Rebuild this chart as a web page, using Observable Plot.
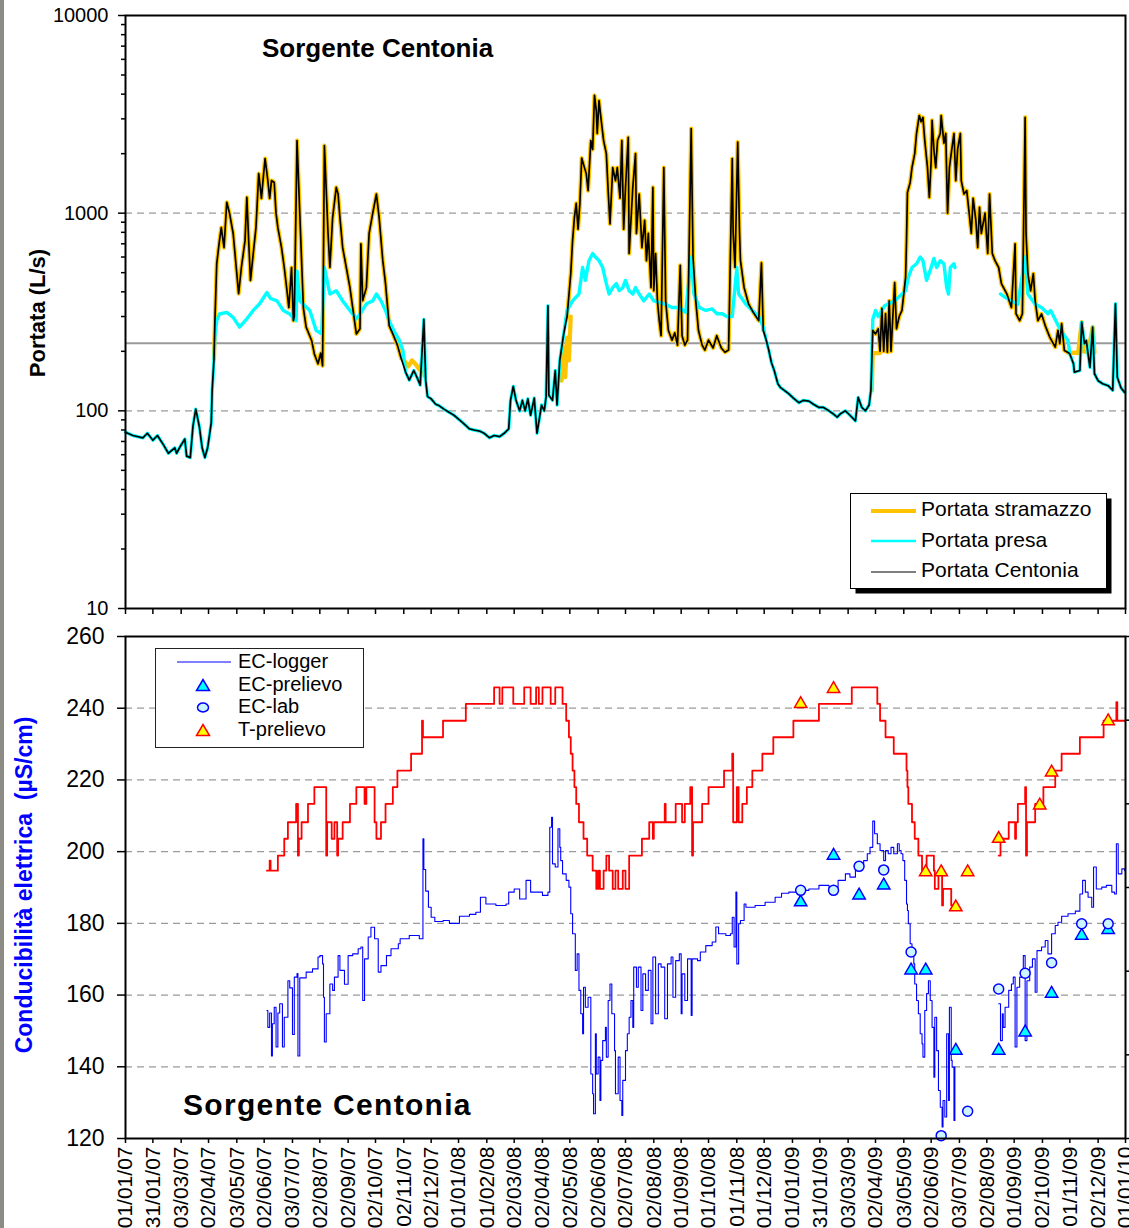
<!DOCTYPE html>
<html>
<head>
<meta charset="utf-8">
<script src="https://cdn.jsdelivr.net/npm/d3@7"></script>
<script src="https://cdn.jsdelivr.net/npm/@observablehq/plot@0.6"></script>
<style>
  html, body { margin: 0; padding: 0; background: #fff; }
  #page { position: relative; width: 1129px; height: 1228px; overflow: hidden;
          font-family: "Liberation Sans", Arial, sans-serif; }
  #top, #bottom { position: absolute; left: 0; }
  #top { top: 0; }
  #bottom { top: 620px; }
  #strip { position: absolute; left: 0; top: 0; width: 4px; height: 1228px; background: #8c8c84; }
  #overlay { position: absolute; left: 0; top: 0; pointer-events: none; }
  #overlay text { font-family: "Liberation Sans", Arial, sans-serif; fill: #000; }
</style>
</head>
<body>
<div id="page">
  <div id="top"></div>
  <div id="bottom"></div>
  <div id="strip"></div>
  <svg id="overlay" width="1129" height="1228">
    <!-- discharge panel: title, axis title, legend -->
    <text x="262" y="57" font-size="26" font-weight="bold">Sorgente Centonia</text>
    <text transform="translate(45,313) rotate(-90)" text-anchor="middle" font-size="22" font-weight="bold">Portata (L/s)</text>
    <rect x="855.5" y="498.5" width="256" height="95" fill="#000"/>
    <rect x="850.5" y="493.5" width="256" height="95" fill="#fff" stroke="#000" stroke-width="1"/>
    <line x1="871" x2="916" y1="511" y2="511" stroke="#ffc400" stroke-width="4"/>
    <line x1="871" x2="916" y1="541" y2="541" stroke="#00ffff" stroke-width="2.5"/>
    <line x1="871" x2="916" y1="572" y2="572" stroke="#000" stroke-width="1.2"/>
    <text x="921" y="516" font-size="21">Portata stramazzo</text>
    <text x="921" y="547" font-size="21">Portata presa</text>
    <text x="921" y="577" font-size="21">Portata Centonia</text>

    <!-- conductivity panel: title, axis title, legend -->
    <text x="183" y="1115" font-size="30" font-weight="bold" letter-spacing="1.3">Sorgente Centonia</text>
    <text transform="translate(32,885) rotate(-90)" text-anchor="middle" font-size="23" font-weight="bold" style="fill:#0000ff" xml:space="preserve">Conducibilità elettrica  (µS/cm)</text>
    <rect x="155.5" y="648.5" width="208" height="99" fill="#fff" stroke="#222" stroke-width="1"/>
    <line x1="177" x2="231" y1="662" y2="662" stroke="#0000ff" stroke-width="1.2"/>
    <polygon points="196.5,690.5 209.5,690.5 203,679.5" fill="#00ffff" stroke="#0000ff" stroke-width="1.5"/>
    <ellipse cx="203" cy="707.5" rx="5.5" ry="4.5" fill="#ccf5ff" stroke="#0000ff" stroke-width="1.5"/>
    <polygon points="196.5,735.5 209.5,735.5 203,724.5" fill="#ffff00" stroke="#ff0000" stroke-width="1.5"/>
    <text x="238" y="668" font-size="20">EC-logger</text>
    <text x="238" y="691" font-size="20">EC-prelievo</text>
    <text x="238" y="713" font-size="20">EC-lab</text>
    <text x="238" y="736" font-size="20">T-prelievo</text>
  </svg>
</div>
<script>
// ---------- shared time axis ----------
const tickLabels = [
  "01/01/07","31/01/07","03/03/07","02/04/07","03/05/07","02/06/07","03/07/07","02/08/07",
  "02/09/07","02/10/07","02/11/07","02/12/07","01/01/08","01/02/08","02/03/08","02/04/08",
  "02/05/08","02/06/08","02/07/08","02/08/08","01/09/08","01/10/08","01/11/08","01/12/08",
  "01/01/09","31/01/09","03/03/09","02/04/09","03/05/09","02/06/09","03/07/09","02/08/09",
  "01/09/09","02/10/09","01/11/09","02/12/09","01/01/10"
];

// ---------- discharge (L/s) ----------
// Low-flow periods: intake and Centonia readings coincide.
const low2007a = [
  ["2007-01-01",78],["2007-01-09",75],["2007-01-20",73],["2007-01-25",77],["2007-01-31",71],
  ["2007-02-05",75],["2007-02-11",68],["2007-02-17",61],["2007-02-24",65],["2007-02-26",61],
  ["2007-03-02",66],["2007-03-07",72],["2007-03-09",59],["2007-03-13",58],["2007-03-16",84],
  ["2007-03-19",102],["2007-03-23",83],["2007-03-26",65],["2007-03-29",58],["2007-04-01",65],
  ["2007-04-05",87],["2007-04-06",127],["2007-04-08",183]
];
const low2007b = [
  ["2007-11-04",157],["2007-11-08",143],["2007-11-13",160],["2007-11-17",146],["2007-11-20",135],
  ["2007-11-24",290],["2007-11-26",143],["2007-11-28",118],["2007-12-02",115],["2007-12-07",108],
  ["2007-12-11",106],["2007-12-16",102],["2007-12-22",98],["2007-12-27",95],["2008-01-02",90],
  ["2008-01-07",86],["2008-01-13",81],["2008-01-18",80],["2008-01-24",79],["2008-01-29",77],
  ["2008-02-04",73],["2008-02-09",75],["2008-02-15",74],["2008-02-20",77],["2008-02-25",81],
  ["2008-02-27",113],["2008-03-01",133],["2008-03-04",113],["2008-03-08",100],["2008-03-11",113],
  ["2008-03-14",100],["2008-03-17",115],["2008-03-20",95],["2008-03-24",116],["2008-03-27",77],
  ["2008-04-01",107],["2008-04-04",100],["2008-04-06",118],["2008-04-08",340],["2008-04-09",120],
  ["2008-04-13",113],["2008-04-16",160],["2008-04-18",107],["2008-04-21",180],["2008-04-25",240]
];
const low2008 = [
  ["2008-12-03",230],["2008-12-06",203],["2008-12-09",175],["2008-12-12",160],["2008-12-16",137],
  ["2008-12-19",131],["2008-12-23",127],["2008-12-28",122],["2009-01-02",116],["2009-01-08",110],
  ["2009-01-13",113],["2009-01-19",112],["2009-01-24",108],["2009-01-30",104],["2009-02-04",104],
  ["2009-02-10",100],["2009-02-14",97],["2009-02-19",93],["2009-02-23",97],["2009-02-28",100],
  ["2009-03-05",95],["2009-03-11",89],["2009-03-14",117],["2009-03-18",104],["2009-03-22",100],
  ["2009-03-26",107],["2009-03-28",127]
];
const low2009 = [
  ["2009-11-01",194],["2009-11-05",173],["2009-11-06",157],["2009-11-12",160],["2009-11-14",281],
  ["2009-11-17",219],["2009-11-19",227],["2009-11-23",166],["2009-11-26",265],["2009-11-28",154],
  ["2009-12-02",142],["2009-12-07",137],["2009-12-13",134],["2009-12-18",127],["2009-12-21",348],
  ["2009-12-23",148],["2009-12-27",131],["2009-12-31",124]
];

// High-flow periods: weir (stramazzo) readings, which Centonia follows.
const weir2007 = [
  ["2007-04-08",183],["2007-04-09",286],["2007-04-11",556],["2007-04-14",726],["2007-04-16",845],
  ["2007-04-19",670],["2007-04-22",1135],["2007-04-25",1000],["2007-04-29",789],["2007-05-03",494],
  ["2007-05-05",392],["2007-05-08",531],["2007-05-12",726],["2007-05-14",1202],["2007-05-16",726],
  ["2007-05-18",457],["2007-05-21",624],["2007-05-24",845],["2007-05-27",1585],["2007-05-30",1189],
  ["2007-06-01",1514],["2007-06-03",1890],["2007-06-06",1462],["2007-06-08",1189],["2007-06-10",1462],
  ["2007-06-13",1430],["2007-06-15",1000],["2007-06-17",845],["2007-06-21",670],["2007-06-24",531],
  ["2007-06-27",405],["2007-06-29",333],["2007-07-02",531],["2007-07-04",286],["2007-07-05",300],
  ["2007-07-08",2330],["2007-07-11",1000],["2007-07-13",575],["2007-07-15",330],["2007-07-18",265],
  ["2007-07-24",227],["2007-07-27",194],["2007-07-31",173],["2007-08-03",196],["2007-08-05",169],
  ["2007-08-07",2200],["2007-08-11",789],["2007-08-13",531],["2007-08-16",950],["2007-08-20",1350],
  ["2007-08-22",1250],["2007-08-24",950],["2007-08-27",670],["2007-08-31",531],["2007-09-04",420],
  ["2007-09-07",333],["2007-09-11",245],["2007-09-15",260],["2007-09-16",700],["2007-09-18",361],
  ["2007-09-22",420],["2007-09-25",789],["2007-09-29",1000],["2007-10-03",1250],["2007-10-06",950],
  ["2007-10-10",575],["2007-10-13",440],["2007-10-17",270],["2007-10-21",245],["2007-10-26",215],
  ["2007-10-30",185]
];
const weir2008 = [
  ["2008-04-28",286],["2008-04-29",300],["2008-05-03",494],["2008-05-05",726],["2008-05-07",950],
  ["2008-05-09",1120],["2008-05-11",830],["2008-05-13",1120],["2008-05-15",1900],["2008-05-18",1700],
  ["2008-05-20",1585],["2008-05-22",1300],["2008-05-25",2330],["2008-05-27",2100],["2008-05-29",3940],
  ["2008-05-31",3300],["2008-06-01",2530],["2008-06-03",3715],["2008-06-05",3050],["2008-06-08",2330],
  ["2008-06-11",2000],["2008-06-13",1300],["2008-06-15",883],["2008-06-18",1700],["2008-06-21",1460],
  ["2008-06-23",1700],["2008-06-26",1190],["2008-06-28",2330],["2008-06-30",830],["2008-07-02",1350],
  ["2008-07-05",2420],["2008-07-06",625],["2008-07-10",1350],["2008-07-13",2000],["2008-07-14",790],
  ["2008-07-17",1250],["2008-07-20",670],["2008-07-23",920],["2008-07-25",575],["2008-07-27",790],
  ["2008-07-30",420],["2008-08-01",1350],["2008-08-02",405],["2008-08-04",625],["2008-08-06",360],
  ["2008-08-08",286],["2008-08-10",240],["2008-08-13",1700],["2008-08-15",360],["2008-08-18",255],
  ["2008-08-22",228],["2008-08-25",248],["2008-08-28",215],["2008-08-31",545],["2008-09-02",240],
  ["2008-09-05",215],["2008-09-08",228],["2008-09-12",2680],["2008-09-14",600],["2008-09-17",360],
  ["2008-09-20",255],["2008-09-24",215],["2008-09-27",203],["2008-10-01",228],["2008-10-06",208],
  ["2008-10-10",240],["2008-10-15",208],["2008-10-19",198],["2008-10-23",203],["2008-10-27",1890],
  ["2008-10-28",790],["2008-10-30",531],["2008-11-02",2290],["2008-11-04",790],["2008-11-05",575],
  ["2008-11-09",420],["2008-11-14",346],["2008-11-19",315],["2008-11-25",286],["2008-11-28",560],
  ["2008-11-30",255]
];
const weir2009 = [
  ["2009-03-30",255],["2009-04-02",245],["2009-04-05",260],["2009-04-07",200],["2009-04-09",330],
  ["2009-04-11",200],["2009-04-13",310],["2009-04-15",198],["2009-04-17",360],["2009-04-19",200],
  ["2009-04-21",300],["2009-04-23",445],["2009-04-25",260],["2009-04-28",300],["2009-05-01",322],
  ["2009-05-05",473],["2009-05-06",726],["2009-05-07",1270],["2009-05-10",1430],["2009-05-12",1700],
  ["2009-05-15",2000],["2009-05-17",2530],["2009-05-20",3120],["2009-05-22",2900],["2009-05-24",3050],
  ["2009-05-26",2330],["2009-05-29",1700],["2009-05-31",1200],["2009-06-02",1840],["2009-06-03",2950],
  ["2009-06-05",2100],["2009-06-07",1700],["2009-06-09",2330],["2009-06-12",2530],["2009-06-13",3120],
  ["2009-06-16",2260],["2009-06-18",2530],["2009-06-20",1000],["2009-06-22",1700],["2009-06-24",2000],
  ["2009-06-27",2530],["2009-06-29",1460],["2009-07-01",2100],["2009-07-04",2530],["2009-07-05",1460],
  ["2009-07-08",1250],["2009-07-11",1300],["2009-07-13",1070],["2009-07-16",790],["2009-07-18",1190],
  ["2009-07-21",920],["2009-07-23",670],["2009-07-25",1070],["2009-07-27",790],["2009-07-31",1000],
  ["2009-08-03",625],["2009-08-05",1250],["2009-08-08",625],["2009-08-11",575],["2009-08-15",531],
  ["2009-08-18",440],["2009-08-24",390],["2009-08-29",333],["2009-09-02",700],["2009-09-03",310],
  ["2009-09-07",286],["2009-09-10",310],["2009-09-13",3050],["2009-09-14",790],["2009-09-16",494],
  ["2009-09-19",405],["2009-09-22",494],["2009-09-24",360],["2009-09-27",286],["2009-10-01",309],
  ["2009-10-05",270],["2009-10-10",236],["2009-10-16",210],["2009-10-19",255],["2009-10-21",219],
  ["2009-10-23",276],["2009-10-26",202],["2009-10-31",196]
];
// Weir readings where they part from the Centonia trace.
const weirOnly2007 = [
  ["2007-10-30",185],["2007-11-03",178],["2007-11-07",168],["2007-11-11",180],["2007-11-15",172],
  ["2007-11-19",162],["2007-11-22",176],["2007-11-25",150]
];
const weirOnly2008 = [
  ["2008-04-23",142],["2008-04-25",210],["2008-04-27",148],["2008-04-29",235],["2008-05-01",180],
  ["2008-05-03",300]
];
const weirOnly2009a = [["2009-03-29",127],["2009-03-30",196],["2009-04-07",196]];
const weirOnly2009b = [
  ["2009-10-31",196],["2009-11-05",197],["2009-11-10",196],["2009-11-14",281],["2009-11-16",200],
  ["2009-11-21",198],["2009-11-26",265],["2009-11-28",197]
];

// Intake (presa) readings during high flow; null marks the missing record.
const presa2007 = [
  ["2007-04-09",240],["2007-04-11",286],["2007-04-14",309],["2007-04-22",315],["2007-04-29",297],
  ["2007-05-06",265],["2007-05-14",292],["2007-05-21",322],["2007-05-28",348],["2007-06-05",397],
  ["2007-06-09",370],["2007-06-16",360],["2007-06-23",322],["2007-06-30",309],["2007-07-07",286],
  ["2007-07-08",510],["2007-07-11",360],["2007-07-22",322],["2007-07-29",255],["2007-08-04",245],
  ["2007-08-07",531],["2007-08-13",390],["2007-08-20",405],["2007-08-27",360],["2007-09-04",322],
  ["2007-09-11",292],["2007-09-15",309],["2007-09-22",348],["2007-09-29",360],["2007-10-03",390],
  ["2007-10-08",360],["2007-10-13",322],["2007-10-17",285],["2007-10-22",255],["2007-10-28",228],
  ["2007-11-01",203]
];
const presa2008 = [
  ["2008-04-29",322],["2008-05-05",360],["2008-05-12",390],["2008-05-16",531],["2008-05-19",457],
  ["2008-05-23",575],["2008-05-27",625],["2008-05-30",600],["2008-06-03",575],["2008-06-07",531],
  ["2008-06-11",440],["2008-06-14",390],["2008-06-18",420],["2008-06-22",440],["2008-06-25",405],
  ["2008-06-29",420],["2008-07-02",457],["2008-07-06",405],["2008-07-10",390],["2008-07-13",420],
  ["2008-07-17",390],["2008-07-22",360],["2008-07-28",390],["2008-08-02",360],["2008-08-08",354],
  ["2008-08-15",346],["2008-08-22",333],["2008-08-30",333],["2008-09-06",315],["2008-09-12",600],
  ["2008-09-15",390],["2008-09-21",333],["2008-09-28",322],["2008-10-05",328],["2008-10-10",310],
  ["2008-10-16",310],["2008-10-21",300],["2008-10-27",300],["2008-11-01",531],["2008-11-03",390],
  ["2008-11-11",346],["2008-11-18",322],["2008-11-25",300],["2008-11-30",265]
];
const presa2009 = [
  ["2009-03-30",290],["2009-04-02",322],["2009-04-05",300],["2009-04-12",340],["2009-04-23",360],
  ["2009-05-05",405],["2009-05-08",473],["2009-05-12",531],["2009-05-17",555],["2009-05-21",600],
  ["2009-05-24",575],["2009-05-28",457],["2009-06-01",515],["2009-06-05",590],["2009-06-08",531],
  ["2009-06-12",575],["2009-06-16",555],["2009-06-19",420],["2009-06-21",390],["2009-06-23",531],
  ["2009-06-27",555],["2009-06-28",531],["2009-07-20",null],["2009-08-17",390],["2009-08-22",375],
  ["2009-08-29",360],["2009-09-05",346],["2009-09-13",600],["2009-09-16",390],["2009-09-24",346],
  ["2009-10-01",333],["2009-10-08",310],["2009-10-11",322],["2009-10-22",255],["2009-10-30",227]
];
// Horizontal reference level (L/s)
const thresholdQ = 220;

// ---------- electrical conductivity (µS/cm) ----------
const ecLogger = [
  ["2007-06-05",155.7],["2007-06-06",151],["2007-06-08",155],["2007-06-10",143],["2007-06-11",152],
  ["2007-06-13",156.6],["2007-06-15",145.5],["2007-06-17",155],["2007-06-19",157.6],["2007-06-22",145.5],
  ["2007-06-24",153.8],["2007-06-28",164],["2007-06-30",162],["2007-07-03",149],["2007-07-05",165],
  ["2007-07-08",166],["2007-07-09",143],["2007-07-11",164.8],["2007-07-18",166.4],["2007-07-25",167.3],
  ["2007-07-31",170.6],["2007-08-02",171],["2007-08-05",168.7],["2007-08-06",159.4],["2007-08-07",146.9],
  ["2007-08-09",154.8],["2007-08-13",163.1],["2007-08-16",161.3],["2007-08-18",165],["2007-08-22",171],
  ["2007-08-24",166.9],["2007-08-29",163],["2007-09-02",171],["2007-09-07",171.5],["2007-09-13",172.9],
  ["2007-09-16",173.4],["2007-09-18",158.5],["2007-09-20",170.1],["2007-09-24",176.2],["2007-09-27",178.9],
  ["2007-10-01",175.7],["2007-10-05",166.4],["2007-10-08",168.2],["2007-10-14",171],["2007-10-19",172.9],
  ["2007-10-27",174.3],["2007-10-29",175.7],["2007-11-08",176.6],["2007-11-19",175.7],["2007-11-23",203.6],
  ["2007-11-24",195],["2007-11-26",189],["2007-11-29",184.5],["2007-12-02",181.7],["2007-12-06",180.5],
  ["2007-12-15",180.8],["2007-12-22",180],["2008-01-02",182],["2008-01-13",182.5],["2008-01-20",183.1],
  ["2008-01-25",187.3],["2008-01-31",185.4],["2008-02-11",185],["2008-02-22",185.4],["2008-02-25",188.7],
  ["2008-03-02",189.6],["2008-03-08",186.8],["2008-03-15",192],["2008-03-20",188.7],["2008-03-26",188.7],
  ["2008-04-02",187.8],["2008-04-08",188.7],["2008-04-10",206.8],["2008-04-12",209.6],["2008-04-13",196.6],
  ["2008-04-16",195.7],["2008-04-19",206.4],["2008-04-21",201.2],["2008-04-22",197.5],["2008-04-24",193.8],
  ["2008-04-28",192],["2008-05-01",190.1],["2008-05-03",182.7],["2008-05-05",177.1],["2008-05-08",166.9],
  ["2008-05-10",171.5],["2008-05-12",161.3],["2008-05-14",154.8],["2008-05-16",149.2],["2008-05-17",162.2],
  ["2008-05-19",156.6],["2008-05-22",159.4],["2008-05-25",138],["2008-05-27",132.5],["2008-05-28",126.9],
  ["2008-05-30",149.2],["2008-05-31",138],["2008-06-02",142.7],["2008-06-04",130.6],["2008-06-05",141.8],
  ["2008-06-07",147.3],["2008-06-10",151],["2008-06-11",142.7],["2008-06-13",158.5],["2008-06-15",163.1],
  ["2008-06-17",154.8],["2008-06-20",144.5],["2008-06-21",132.5],["2008-06-24",142.7],["2008-06-26",130.6],
  ["2008-06-28",126.4],["2008-06-29",136.2],["2008-07-02",144.5],["2008-07-04",149.2],["2008-07-06",153.8],
  ["2008-07-08",158.5],["2008-07-10",151],["2008-07-11",167.8],["2008-07-14",162.2],["2008-07-16",167.8],
  ["2008-07-19",155.7],["2008-07-21",165.9],["2008-07-24",161.3],["2008-07-27",166.9],["2008-07-30",152],
  ["2008-08-01",170.6],["2008-08-04",154.8],["2008-08-07",168.7],["2008-08-10",167.8],["2008-08-14",153.4],
  ["2008-08-17",168.7],["2008-08-21",170.6],["2008-08-23",159.4],["2008-08-26",169.6],["2008-08-30",171.5],
  ["2008-09-01",154.8],["2008-09-02",165.9],["2008-09-05",158.5],["2008-09-08",170.1],["2008-09-12",154.3],
  ["2008-09-13",170.1],["2008-09-19",169.6],["2008-09-22",172],["2008-09-28",173.8],["2008-10-05",174.8],
  ["2008-10-09",179],["2008-10-12",177.1],["2008-10-20",176.6],["2008-10-25",177.1],["2008-10-27",181.7],
  ["2008-10-29",173.4],["2008-10-31",188.7],["2008-11-01",168.7],["2008-11-03",179.9],["2008-11-05",180.8],
  ["2008-11-09",185.4],["2008-11-11",184.5],["2008-11-21",185],["2008-12-02",185.9],["2008-12-13",187.3],
  ["2008-12-20",188.4],["2008-12-28",188.7],["2009-01-08",189.2],["2009-01-19",189.6],["2009-01-30",190.6],
  ["2009-02-10",190.1],["2009-02-20",192],["2009-02-28",193.8],["2009-03-05",192.9],["2009-03-11",195.2],
  ["2009-03-16",196.6],["2009-03-20",197.5],["2009-03-24",199.4],["2009-03-27",201.2],["2009-03-30",208.5],
  ["2009-04-01",205],["2009-04-04",202.2],["2009-04-07",200.3],["2009-04-11",197.5],["2009-04-13",200.3],
  ["2009-04-16",199.4],["2009-04-19",201.2],["2009-04-22",199.4],["2009-04-26",202.2],["2009-04-28",200.3],
  ["2009-04-30",199.4],["2009-05-02",197.5],["2009-05-04",192],["2009-05-06",185.4],["2009-05-07",183.6],
  ["2009-05-08",179.9],["2009-05-10",174.3],["2009-05-12",171.5],["2009-05-14",168.7],["2009-05-15",163.1],
  ["2009-05-17",158.5],["2009-05-19",154.8],["2009-05-21",149.2],["2009-05-23",146.4],["2009-05-24",142.7],
  ["2009-05-26",155.7],["2009-05-28",160.4],["2009-05-30",164],["2009-06-01",158.5],["2009-06-03",151],
  ["2009-06-05",137.1],["2009-06-06",153.8],["2009-06-08",144.5],["2009-06-10",133.4],["2009-06-12",128.7],
  ["2009-06-14",123.2],["2009-06-15",130.6],["2009-06-17",126],["2009-06-19",149.2],["2009-06-21",130.6],
  ["2009-06-22",156.6],["2009-06-24",141.8],["2009-06-25",139.9],["2009-06-27",125],["2009-06-28",140],
  ["2009-07-15",null],
  ["2009-08-15",157.6],["2009-08-17",147.3],["2009-08-19",154.8],["2009-08-20",151],["2009-08-22",156.6],
  ["2009-08-26",161.3],["2009-08-29",163.1],["2009-08-31",165],["2009-09-02",145.5],["2009-09-04",162.2],
  ["2009-09-07",165],["2009-09-11",171],["2009-09-13",147.3],["2009-09-15",164],["2009-09-18",167.8],
  ["2009-09-21",170.1],["2009-09-24",160.8],["2009-09-26",172.4],["2009-10-01",173.4],["2009-10-05",175.2],
  ["2009-10-08",171.5],["2009-10-12",177.1],["2009-10-16",179.4],["2009-10-19",180.3],["2009-10-23",182],
  ["2009-10-30",182.7],["2009-11-07",183.4],["2009-11-12",188.2],["2009-11-15",192],["2009-11-18",188.7],
  ["2009-11-21",187.3],["2009-11-25",184.5],["2009-11-27",195.7],["2009-11-30",189.6],["2009-12-06",190.1],
  ["2009-12-11",190.6],["2009-12-17",188.7],["2009-12-20",188.2],["2009-12-22",202.2],["2009-12-24",193.8],
  ["2009-12-28",195.2],["2009-12-31",194.7]
];
// Temperature logger trace, read against the left scale of the lower panel.
const tLogger = [
  ["2007-06-05",194.7],["2007-06-08",197.5],["2007-06-09",194.7],["2007-06-17",198.9],["2007-06-24",203.6],
  ["2007-06-28",208.2],["2007-07-07",213.3],["2007-07-09",198.9],["2007-07-10",203.6],["2007-07-13",208.2],
  ["2007-07-20",213.3],["2007-07-27",218],["2007-08-09",198.9],["2007-08-10",208.2],["2007-08-15",203.6],
  ["2007-08-18",208.2],["2007-08-21",198.9],["2007-08-22",203.6],["2007-08-27",208.2],["2007-09-04",213.3],
  ["2007-09-11",218],["2007-09-20",213.3],["2007-09-22",218],["2007-10-01",208.2],["2007-10-03",203.6],
  ["2007-10-08",208.2],["2007-10-13",213.3],["2007-10-21",218],["2007-10-26",222.6],["2007-11-10",227.3],
  ["2007-11-22",236.5],["2007-11-23",231.9],["2007-12-15",236.5],["2008-01-09",241.2],["2008-02-09",245.8],
  ["2008-02-15",241.2],["2008-02-18",245.8],["2008-03-01",241.2],["2008-03-13",245.8],["2008-03-20",241.2],
  ["2008-03-26",245.8],["2008-03-29",241.2],["2008-04-02",245.8],["2008-04-11",241.2],["2008-04-16",245.8],
  ["2008-04-24",241.2],["2008-04-28",236.5],["2008-05-01",231.9],["2008-05-03",227.3],["2008-05-05",222.6],
  ["2008-05-07",218],["2008-05-09",213.3],["2008-05-12",208.2],["2008-05-17",203.6],["2008-05-21",198.9],
  ["2008-05-27",194.7],["2008-05-31",189.6],["2008-06-02",194.7],["2008-06-04",189.6],["2008-06-08",194.7],
  ["2008-06-11",198.9],["2008-06-14",194.7],["2008-06-18",189.6],["2008-06-21",194.7],["2008-06-24",189.6],
  ["2008-06-29",194.7],["2008-07-02",189.6],["2008-07-06",198.9],["2008-07-20",203.6],["2008-07-28",208.2],
  ["2008-08-01",203.6],["2008-08-02",208.2],["2008-08-14",213.3],["2008-08-15",208.2],["2008-08-26",213.3],
  ["2008-09-02",208.2],["2008-09-05",213.3],["2008-09-11",218],["2008-09-13",198.9],["2008-09-14",208.2],
  ["2008-09-24",213.3],["2008-10-01",218],["2008-10-18",222.6],["2008-10-27",227.3],["2008-10-28",208.2],
  ["2008-11-01",218],["2008-11-03",208.2],["2008-11-07",213.3],["2008-11-12",218],["2008-11-18",222.6],
  ["2008-11-29",227.3],["2008-12-11",231.9],["2009-01-02",236.5],["2009-01-30",241.2],["2009-03-07",245.8],
  ["2009-04-04",241.2],["2009-04-07",236.5],["2009-04-13",231.9],["2009-04-22",227.3],["2009-05-06",222.6],
  ["2009-05-07",218],["2009-05-08",213.3],["2009-05-12",208.2],["2009-05-15",203.6],["2009-05-19",198.9],
  ["2009-05-23",194.7],["2009-05-28",198.9],["2009-06-05",194.7],["2009-06-06",189.6],["2009-06-10",194.7],
  ["2009-06-14",185],["2009-06-15",189.6],["2009-06-24",185],["2009-06-28",185],["2009-07-15",null],
  ["2009-08-15",198.9],["2009-08-17",203.6],["2009-08-26",208.2],["2009-09-02",203.6],["2009-09-03",208.2],
  ["2009-09-05",213.3],["2009-09-13",218],["2009-09-14",198.9],["2009-09-15",208.2],["2009-09-24",213.3],
  ["2009-10-03",218],["2009-10-16",222.6],["2009-10-23",227.3],["2009-11-12",231.9],["2009-12-08",236.5],
  ["2009-12-22",241.7],["2009-12-23",236.5],["2009-12-31",236.5]
];
// Spot samples
const ecPrelievo = [
  ["2009-01-10",185.9],["2009-02-15",198.9],["2009-03-15",187.8],["2009-04-11",190.6],["2009-05-11",166.9],
  ["2009-05-27",166.9],["2009-06-29",144.5],["2009-08-15",144.5],["2009-09-13",149.6],["2009-10-12",160.4],
  ["2009-11-14",176.6],["2009-12-13",178.2]
];
const ecLab = [
  ["2009-01-10",189.2],["2009-02-15",189.2],["2009-03-15",195.9],["2009-04-11",194.9],["2009-05-11",172],
  ["2009-06-13",120.8],["2009-07-12",127.6],["2009-08-15",161.7],["2009-09-13",166.1],["2009-10-12",169],
  ["2009-11-14",179.9],["2009-12-13",179.9]
];
const tPrelievo = [
  ["2009-01-10",241.2],["2009-02-15",245.4],["2009-05-27",194.3],["2009-06-13",194.3],["2009-06-29",184.5],
  ["2009-07-12",194.3],["2009-08-15",203.6],["2009-09-29",212.9],["2009-10-12",222.1],["2009-12-13",236.4]
];

// ---------- assembly ----------
const parseDay = d => new Date(d + "T00:00:00Z");
const rows = pairs => pairs.map(([d, v]) => ({date: parseDay(d), value: v}));
const byDate = (a, b) => a.date - b.date;

const centonia = rows([...low2007a, ...weir2007, ...low2007b, ...weir2008, ...low2008, ...weir2009, ...low2009]).sort(byDate);
const presa = rows([...low2007a, ...presa2007, ...low2007b, ...presa2008, ...low2008, ...presa2009, ...low2009]).sort(byDate);
const stramazzo = [weir2007, weir2008, weir2009, weirOnly2007, weirOnly2008, weirOnly2009a, weirOnly2009b]
  .flatMap((seg, i) => rows(seg).map(r => ({...r, seg: i})));

const xDomain = [parseDay("2007-01-01"), parseDay("2010-01-01")];
const tickDates = tickLabels.map(d3.utcParse("%d/%m/%y"));
const fmtTick = d3.utcFormat("%d/%m/%y");
const font = "'Liberation Sans', Arial, sans-serif";
const grid = {stroke: "#9a9a9a", strokeOpacity: 1, strokeWidth: 1.3, strokeDasharray: "7,5"};

const majorQ = [10, 100, 1000, 10000];
const minorQ = [10, 100, 1000].flatMap(b => [2, 3, 4, 5, 6, 7, 8, 9].map(k => k * b));

const topChart = Plot.plot({
  width: 1129, height: 620,
  marginLeft: 125, marginRight: 4, marginTop: 15, marginBottom: 12,
  style: {fontFamily: font, color: "#000", background: "transparent", overflow: "visible"},
  x: {type: "utc", domain: xDomain},
  y: {type: "log", domain: [10, 10000]},
  marks: [
    Plot.gridY({ticks: [100, 1000], ...grid}),
    Plot.ruleY([thresholdQ], {stroke: "#9a9a9a", strokeWidth: 2}),
    Plot.line(stramazzo, {x: "date", y: "value", z: "seg", stroke: "#ffc400", strokeWidth: 4.2}),
    Plot.line(presa, {x: "date", y: "value", stroke: "#00ffff", strokeWidth: 3.4}),
    Plot.line(centonia, {x: "date", y: "value", stroke: "#000", strokeWidth: 1.7}),
    Plot.axisY({ticks: majorQ, tickFormat: d3.format("d"), tickSize: 7, tickPadding: 10, fontSize: 20, strokeWidth: 1.5, label: null}),
    Plot.axisY({ticks: minorQ, tickFormat: () => "", tickSize: 4, strokeWidth: 1.5, label: null}),
    Plot.axisX({ticks: tickDates, tickFormat: () => "", tickSize: 6, strokeWidth: 1.5, label: null}),
    Plot.frame({stroke: "#000", strokeWidth: 2})
  ]
});
document.getElementById("top").append(topChart);

const ecTicks = d3.range(120, 261, 20);
const rightTicks = d3.range(7).map(i => 120 + i * 140 / 6);

const bottomChart = Plot.plot({
  width: 1129, height: 608,
  marginLeft: 125, marginRight: 4, marginTop: 16, marginBottom: 90,
  style: {fontFamily: font, color: "#000", background: "transparent", overflow: "visible"},
  x: {type: "utc", domain: xDomain},
  y: {domain: [120, 260]},
  marks: [
    Plot.gridY({ticks: [140, 160, 180, 200, 220, 240], ...grid}),
    Plot.line(rows(ecLogger), {x: "date", y: "value", stroke: "#0000ff", strokeWidth: 1.1, curve: "step-after"}),
    Plot.line(rows(tLogger), {x: "date", y: "value", stroke: "#ff0000", strokeWidth: 1.8, curve: "step-after"}),
    Plot.dot(rows(ecPrelievo), {x: "date", y: "value", symbol: "triangle", r: 4.6, fill: "#00ffff", stroke: "#0000ff", strokeWidth: 1.5}),
    Plot.dot(rows(ecLab), {x: "date", y: "value", symbol: "circle", r: 5, fill: "#ccf5ff", stroke: "#0000ff", strokeWidth: 1.5}),
    Plot.dot(rows(tPrelievo), {x: "date", y: "value", symbol: "triangle", r: 4.6, fill: "#ffff00", stroke: "#ff0000", strokeWidth: 1.5}),
    Plot.axisY({ticks: ecTicks, tickSize: 8, tickPadding: 13, fontSize: 23, strokeWidth: 1.5, label: null}),
    Plot.axisY({anchor: "right", ticks: rightTicks, tickFormat: () => "", tickSize: 6, strokeWidth: 1.5, label: null}),
    Plot.axisX({ticks: tickDates, tickFormat: fmtTick, tickRotate: -90, tickSize: 5, tickPadding: 3, fontSize: 21, strokeWidth: 1.5, label: null}),
    Plot.frame({stroke: "#000", strokeWidth: 2})
  ]
});
document.getElementById("bottom").append(bottomChart);
</script>
</body>
</html>
